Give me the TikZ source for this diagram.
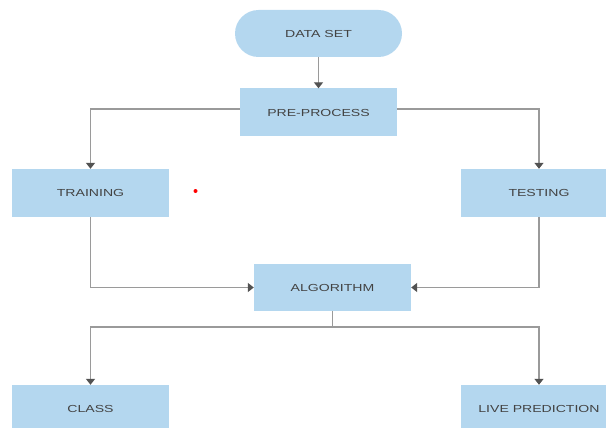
\documentclass[tikz,border=0pt]{standalone}
\usepackage{fontspec}
\setmainfont{Liberation Sans}[FakeStretch=1.38]
\usetikzlibrary{arrows.meta}
\definecolor{boite}{HTML}{B4D7EF}
\definecolor{trait}{HTML}{9A9A9A}
\definecolor{texte}{HTML}{434343}

\begin{document}
\begin{tikzpicture}[x=1pt, y=-1pt, fleche/.style={-{Triangle[width=9pt, length=6pt, color=black!68]}, draw=trait, line width=1.3pt}]
        \tikzset{etape/.style={rectangle, minimum height=48pt, minimum width=157pt, inner sep=0pt, fill=boite, text=texte, font=\fontsize{10.2}{12}\selectfont}};
        \clip (0, 0) rectangle (606, 428);

        \node[etape, minimum width=167pt, minimum height=47pt, rounded corners=23.5pt] (data) at (318.5, 33.5) {DATA SET};
        \node[etape] (pre) at (318.5, 112.5) {PRE-PROCESS};
        \node[etape] (train) at (90.5, 193) {TRAINING};
        \node[etape] (test) at (539, 193) {TESTING};
        \node[etape, minimum height=47pt] (algo) at (332.5, 287.5) {ALGORITHM};
        \node[etape] (class) at (90.5, 409) {CLASS};
        \node[etape] (live) at (539, 409) {LIVE PREDICTION};
        \coordinate (fourche) at (332.5, 327);

        \draw[fleche] (data) -- (pre);
        \draw[fleche] ([yshift=3.5pt]pre.west) -| (train);
        \draw[fleche] ([yshift=3.5pt]pre.east) -| (test);
        \draw[fleche] (train) |- (algo);
        \draw[fleche] (test) |- (algo);
        \draw[trait, line width=1.8pt] (algo) -- (fourche);
        \draw[fleche] (fourche) -| (class);
        \draw[fleche] (fourche) -| (live);

        \fill[red] (195.5, 191) circle (2pt);
    \end{tikzpicture}
\end{document}
